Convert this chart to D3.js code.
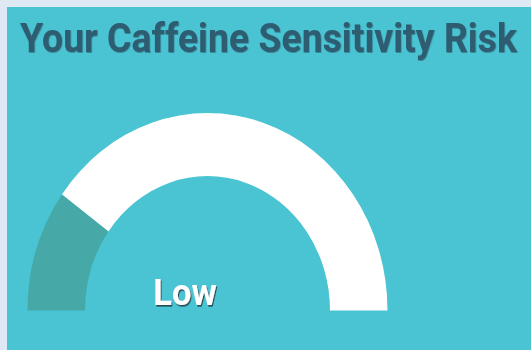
<!DOCTYPE html>
<html>
<head>
<meta charset="utf-8">
<script src="https://cdn.jsdelivr.net/npm/d3@7"></script>
<style>
  html, body { margin: 0; padding: 0; background: #dfe9f4; }
  svg { display: block; }
</style>
</head>
<body>
<svg id="chart" width="531" height="350"></svg>
<script>
// Gauge data
const titleText = "Your Caffeine Sensitivity Risk";
const riskLabel = "Low";
const gaugeDomain = [0, 100];
const riskValue = [20];

const W = 531, H = 350;
const svg = d3.select("#chart");

// Panel background
svg.append("rect")
  .attr("x", 7).attr("y", 7)
  .attr("width", W - 7).attr("height", H - 7)
  .attr("fill", "#4ac3d3");

const defs = svg.append("defs");
const sh = defs.append("filter").attr("id", "lowShadow")
  .attr("x", "-20%").attr("y", "-20%").attr("width", "140%").attr("height", "140%");
sh.append("feDropShadow").attr("dx", 1).attr("dy", 1.5)
  .attr("stdDeviation", 0.6).attr("flood-color", "#1d3b45").attr("flood-opacity", 0.85);
const tsh = defs.append("filter").attr("id", "titleShadow")
  .attr("x", "-5%").attr("y", "-20%").attr("width", "110%").attr("height", "140%");
tsh.append("feDropShadow").attr("dx", 0.5).attr("dy", 0.8)
  .attr("stdDeviation", 0.6).attr("flood-color", "#1d3b45").attr("flood-opacity", 0.5);

// Vertical stretch shared by the whole chart
const ky = 1.097;

// Title
svg.append("text")
  .attr("transform", `translate(268.5,52.3) scale(1,${ky})`)
  .attr("text-anchor", "middle")
  .attr("font-family", "Roboto, 'Liberation Sans', sans-serif")
  .attr("font-weight", 700)
  .attr("font-size", 37.4)
  .attr("fill", "#2d5d72")
  .attr("filter", "url(#titleShadow)")
  .text(titleText);

// Gauge
const angle = d3.scaleLinear().domain(gaugeDomain).range([-Math.PI / 2, Math.PI / 2]);
const arc = d3.arc().innerRadius(122.5).outerRadius(180);

const g = svg.append("g")
  .attr("transform", `translate(207.5,310.5) scale(1,${ky})`);

// Unfilled track
g.append("path")
  .attr("d", arc({ startAngle: angle(riskValue[0]), endAngle: angle(gaugeDomain[1]) }))
  .attr("fill", "#ffffff");

// Value arc
g.selectAll("path.value")
  .data(riskValue)
  .join("path")
  .attr("class", "value")
  .attr("d", d => arc({ startAngle: angle(gaugeDomain[0]), endAngle: angle(d) }))
  .attr("fill", "#46a8a7");

// Risk label
svg.append("text")
  .attr("transform", `translate(185,305) scale(1,${ky})`)
  .attr("text-anchor", "middle")
  .attr("font-family", "Roboto, 'Liberation Sans', sans-serif")
  .attr("font-weight", 700)
  .attr("font-size", 34.5)
  .attr("fill", "#ffffff")
  .attr("filter", "url(#lowShadow)")
  .text(riskLabel);
</script>
</body>
</html>
